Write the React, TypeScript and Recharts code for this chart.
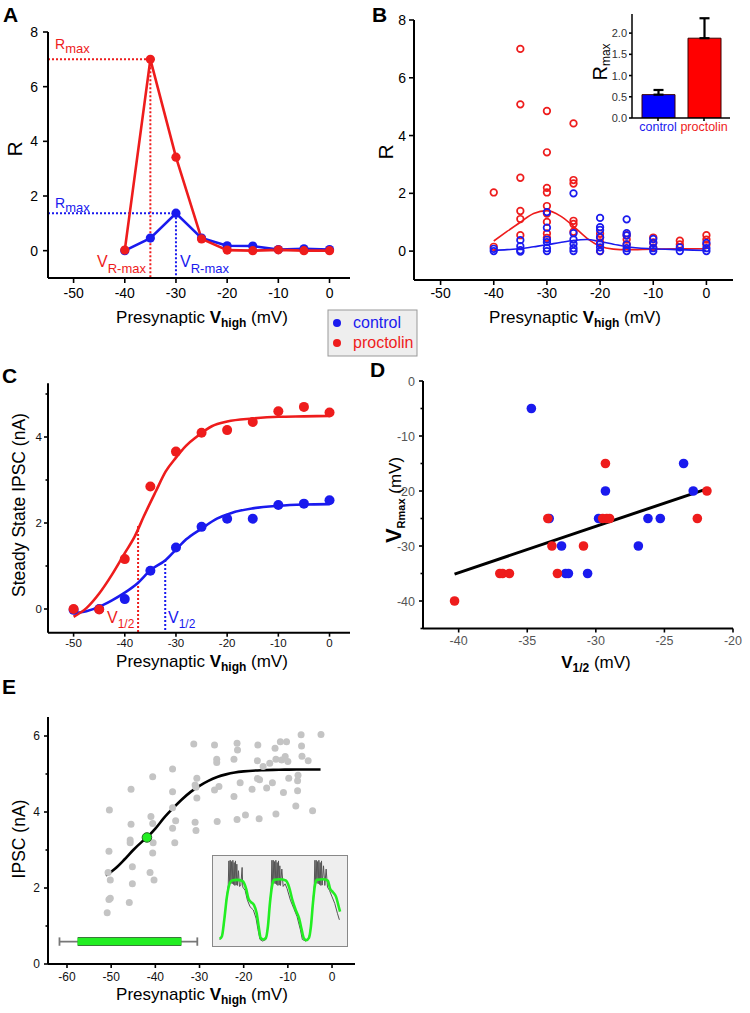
import React from 'react';
import { ComposedChart, LineChart, BarChart, Line, Scatter, Bar, XAxis, YAxis, ReferenceLine, ErrorBar, Cell } from 'recharts';

const FONT = '"Liberation Sans", Arial, Helvetica, sans-serif';
const RED = '#ee1c1c';
const BLUE = '#1a1aee';
const GREEN = '#22ee22';

// ---------- Panel A ----------
const aVoltages = [-40, -35, -30, -25, -20, -15, -10, -5, 0];
const aControlR = [0.0, 0.46, 1.37, 0.46, 0.18, 0.17, 0.04, 0.07, 0.04];
const aProctolinR = [0.02, 7.0, 3.42, 0.43, 0.02, 0.0, 0.03, 0.0, 0.0];
const aRmaxRed = [{ x: -55, y: 7.0 }, { x: -35, y: 7.0 }];
const aVmaxRed = [{ x: -35, y: 7.0 }, { x: -35, y: -1 }];
const aRmaxBlue = [{ x: -55, y: 1.37 }, { x: -30, y: 1.37 }];
const aVmaxBlue = [{ x: -30, y: 1.37 }, { x: -30, y: -1 }];
const vTicks = [-50, -40, -30, -20, -10, 0];
const aYTicks = [0, 2, 4, 6, 8];

// ---------- Panel B ----------
const bVoltages = [-40, -35, -30, -25, -20, -15, -10, -5, 0];
const bProctolinR = [
  [2.03, 0.15],
  [7.0, 5.08, 2.54, 1.39, 1.11, 0.55],
  [4.85, 3.42, 2.19, 2.03, 1.56, 1.3, 1.01, 0.61, 0.46],
  [4.42, 2.46, 2.34, 1.05, 0.94, 0.67],
  [0.6, 0.46, 0.3, 0.0],
  [0.55, 0.4, 0.23],
  [0.47, 0.3, 0.12],
  [0.36, 0.23],
  [0.55, 0.4, 0.22],
];
const bControlR = [
  [0.0, 0.08],
  [0.38, 0.17, 0.03, -0.02],
  [1.35, 0.81, 0.4, 0.31, 0.1, 0.0],
  [2.0, 0.62, 0.4, 0.25, 0.1, 0.0],
  [1.15, 0.83, 0.73, 0.48, 0.25, 0.13, 0.0],
  [1.1, 0.62, 0.54, 0.23, 0.1, 0.0],
  [0.42, 0.28, 0.1, 0.0],
  [0.13, 0.0],
  [0.28, 0.1, 0.0],
];
const bFitV = [-40, -37.5, -35, -32.5, -30, -27.5, -25, -22.5, -20, -17.5, -15, -10, -5, 0];
const bFitProctolin = [0.35, 0.68, 1.0, 1.3, 1.4, 1.22, 0.86, 0.45, 0.17, 0.07, 0.05, 0.07, 0.08, 0.08];
const bFitControl = [0.03, 0.05, 0.08, 0.15, 0.22, 0.3, 0.37, 0.4, 0.33, 0.24, 0.15, 0.08, 0.05, 0.02];
const bYTicks = [0, 2, 4, 6, 8];

// ---------- Panel B inset ----------
const insetGroups = ['control', 'proctolin'];
const insetRmax = [0.55, 1.88];
const insetSem = [0.11, 0.47];
const insetYTicks = [0, 0.5, 1.0, 1.5, 2.0];

// ---------- Panel C ----------
const cVoltages = [-50, -45, -40, -35, -30, -25, -20, -15, -10, -5, 0];
const cControlI = [-0.02, 0.0, 0.23, 0.89, 1.43, 1.91, 2.1, 2.1, 2.42, 2.45, 2.53];
const cProctolinI = [0.0, -0.01, 1.16, 2.85, 3.66, 4.1, 4.16, 4.35, 4.6, 4.7, 4.57];
const cFitProctolinV = [-50, -47.5, -45, -42.5, -40, -38, -36.3, -34, -32, -30, -28, -26, -23, -20, -15, -10, -5, 0];
const cFitProctolinI = [-0.18, 0.02, 0.36, 0.8, 1.3, 1.7, 2.15, 2.72, 3.2, 3.52, 3.8, 4.0, 4.25, 4.36, 4.43, 4.47, 4.48, 4.49];
const cFitControlV = [-50, -47.5, -45, -42.5, -40, -37.5, -35, -32, -30, -28, -25, -22, -19, -15, -10, -5, 0];
const cFitControlI = [-0.1, -0.05, 0.05, 0.2, 0.38, 0.6, 0.9, 1.14, 1.38, 1.62, 1.87, 2.1, 2.24, 2.34, 2.4, 2.43, 2.44];
const cHalfRed = [{ x: -37.4, y: 1.93 }, { x: -37.4, y: -0.55 }];
const cHalfBlue = [{ x: -32.1, y: 1.14 }, { x: -32.1, y: -0.55 }];
const cYTicks = [0, 1, 2, 3, 4, 5];

// ---------- Panel D ----------
const dControlV12 = [-34.7, -33.4, -32.5, -32.2, -32.0, -30.6, -29.8, -29.3, -26.9, -26.2, -25.3, -23.6, -22.9];
const dControlVR = [-5, -25, -30, -35, -35, -35, -25, -20, -30, -25, -25, -15, -20];
const dProctolinV12 = [-40.3, -37.0, -36.8, -36.3, -33.5, -33.2, -32.8, -30.9, -29.5, -29.3, -29.2, -29.0, -22.6, -21.9];
const dProctolinVR = [-40, -35, -35, -35, -25, -30, -35, -30, -25, -15, -25, -25, -25, -20];
const dFit = [{ x: -40.3, y: -35.1 }, { x: -21.9, y: -19.6 }];
const dXTicks = [-40, -35, -30, -25, -20];
const dYTicks = [-45, -40, -35, -30, -25, -20, -15, -10, -5, 0];

// ---------- Panel E ----------
const eScatterV = [-50.4, -50.5, -50.7, -50.2, -50.2, -50.5, -50.9, -45.5, -45.5, -45.7, -45.7, -45.2, -45.2, -45.9,
  -40.6, -41.0, -40.6, -40.5, -40.6, -41.2, -40.3, -36.1, -36.1, -36.1, -36.1, -35.4, -35.6,
  -31.3, -30.6, -31.0, -30.8, -30.6, -31.0, -30.8, -26.6, -26.1, -26.1, -26.6, -25.6, -26.0,
  -22.2, -22.2, -21.5, -21.5, -21.4, -20.8, -19.6, -18.1, -16.8, -16.9, -16.4, -16.9, -16.5,
  -15.6, -14.8, -14.1, -13.5, -12.9, -12.7, -12.7, -11.7, -11.4, -11.0, -10.6, -10.3, -10.0, -9.8,
  -8.2, -7.8, -7.7, -7.8, -7.0, -6.9, -6.8, -5.4, -4.4, -2.5];
const eScatterI = [4.05, 2.97, 2.41, 2.21, 1.73, 1.7, 1.35, 4.6, 3.68, 3.26, 3.19, 2.56, 2.11, 1.62,
  4.93, 3.88, 3.7, 3.19, 2.92, 2.41, 2.21, 5.13, 4.53, 4.11, 3.57, 3.77, 3.19,
  5.79, 4.89, 4.71, 4.65, 4.37, 3.73, 3.51, 5.76, 5.39, 5.3, 4.58, 4.67, 3.75,
  5.39, 4.41, 3.8, 5.81, 5.63, 4.77, 3.92, 4.6, 5.76, 5.35, 4.85, 4.88, 3.82,
  5.2, 4.63, 5.28, 4.77, 5.68, 5.39, 3.95, 5.85, 5.37, 4.51, 5.46, 5.85, 5.33, 4.89,
  4.16, 4.82, 4.97, 4.56, 6.03, 5.74, 5.47, 5.35, 4.03, 6.04];
const eFitV = [-51.2, -49, -47, -45, -43, -41.9, -40, -38, -36, -34, -32, -30, -28, -26, -24, -22, -20, -16, -12, -8, -2.6];
const eFitI = [2.33, 2.52, 2.75, 3.0, 3.22, 3.33, 3.56, 3.85, 4.1, 4.33, 4.53, 4.69, 4.82, 4.92, 4.99, 5.04, 5.07, 5.1, 5.11, 5.12, 5.12];
const eHalf = [{ x: -41.9, y: 3.33 }];
const eRangeWhisker = [{ x: -61.7, y: 0.59 }, { x: -30.5, y: 0.59 }];
const eRangeCapL = [{ x: -61.7, y: 0.48 }, { x: -61.7, y: 0.7 }];
const eRangeCapR = [{ x: -30.5, y: 0.48 }, { x: -30.5, y: 0.7 }];
const eRangeBar = [{ x: -57.6, y: 0.59 }, { x: -34.1, y: 0.59 }];
const eXTicks = [-60, -50, -40, -30, -20, -10, 0];
const eYTicks = [0, 1, 2, 3, 4, 5, 6];

// ---------- Panel E inset traces ----------
const insetGreenT = [58, 65, 72, 80, 88, 95, 110, 128, 138, 145, 152, 162, 170, 176, 182, 190, 198, 204, 210, 216, 222, 240, 258, 268, 278, 288, 298, 306, 312, 320, 328, 334, 340, 346, 352, 370, 385, 392, 400, 410, 418, 422];
const insetGreenV = [22, 30, 80, 150, 190, 200, 202, 198, 175, 145, 135, 125, 100, 60, 25, 20, 25, 60, 130, 180, 202, 204, 200, 180, 140, 110, 85, 50, 25, 18, 25, 60, 130, 185, 202, 204, 200, 175, 165, 150, 120, 105];
const insetGrayT = [58, 66, 72, 78, 84, 86, 88, 90, 92, 94, 96, 98, 100, 102, 104, 106, 108, 110, 112, 115, 118, 122, 126, 128, 135, 142, 150, 160, 168, 174, 180, 188, 198, 204, 210, 214, 216, 218, 220, 222, 224, 226, 228, 230, 232, 234, 236, 238, 240, 242, 246, 250, 256, 262, 272, 282, 292, 302, 308, 318, 328, 334, 340, 344, 346, 348, 350, 352, 354, 356, 358, 360, 362, 364, 366, 368, 372, 376, 380, 384, 390, 398, 406, 414, 420];
const insetGrayV = [20, 30, 75, 140, 185, 260, 190, 262, 192, 258, 190, 262, 188, 255, 185, 260, 186, 250, 185, 230, 182, 185, 240, 180, 170, 140, 120, 110, 85, 50, 20, 15, 20, 60, 130, 180, 262, 190, 262, 192, 258, 190, 262, 188, 255, 185, 260, 186, 245, 185, 235, 182, 190, 175, 140, 115, 90, 50, 20, 15, 25, 60, 135, 185, 262, 190, 262, 192, 258, 190, 262, 188, 255, 185, 260, 186, 245, 185, 235, 180, 170, 150, 130, 100, 80];

// ---------- helpers ----------
const pts = (xs: number[], ys: number[]) => xs.map((x, i) => ({ x, y: ys[i] }));
const groupPts = (xs: number[], groups: number[][]) => xs.flatMap((x, i) => groups[i].map((y) => ({ x, y })));
const tracePts = (ts: number[], vs: number[]) => ts.map((t, i) => ({ t, v: vs[i] }));

type TickOpts = {
  axis: 'x' | 'y';
  major?: (v: any) => boolean;
  fmt?: (v: any) => string;
  fontSize: number;
  color?: string;
  colorFn?: (v: any) => string;
  len: number;
  minorLen?: number;
  offset: number;
};
const mkTick = (o: TickOpts) => (p: any) => {
  const v = p.payload.value;
  const isMajor = o.major ? o.major(v) : true;
  const L = isMajor ? o.len : (o.minorLen ?? 3);
  const label = isMajor ? (o.fmt ? o.fmt(v) : String(v)) : '';
  const fill = o.colorFn ? o.colorFn(v) : (o.color ?? '#000');
  if (o.axis === 'x') {
    return (
      <g>
        <line x1={p.x} y1={p.y} x2={p.x} y2={p.y + L} stroke="#000" strokeWidth={1.6} />
        {label !== '' && (
          <text x={p.x} y={p.y + o.offset} textAnchor="middle" fontSize={o.fontSize} fill={fill} fontFamily={FONT}>{label}</text>
        )}
      </g>
    );
  }
  return (
    <g>
      <line x1={p.x} y1={p.y} x2={p.x - L} y2={p.y} stroke="#000" strokeWidth={1.6} />
      {label !== '' && (
        <text x={p.x - o.offset} y={p.y + o.fontSize * 0.36} textAnchor="end" fontSize={o.fontSize} fill={fill} fontFamily={FONT}>{label}</text>
      )}
    </g>
  );
};

const axisLine = { stroke: '#000', strokeWidth: 2 };
const filledDot = (color: string, r: number, stroke = 'none') => (p: any) => (
  <circle cx={p.cx} cy={p.cy} r={r} fill={color} stroke={stroke} strokeWidth={1} />
);
const openDot = (color: string) => (p: any) => (
  <circle cx={p.cx} cy={p.cy} r={3.3} fill="none" stroke={color} strokeWidth={1.7} />
);

const Abs: React.FC<{ left: number; top: number; children: React.ReactNode }> = ({ left, top, children }) => (
  <div style={{ position: 'absolute', left, top }}>{children}</div>
);

const VLabel: React.FC<{ x: number; y: number }> = ({ x, y }) => (
  <text x={x} y={y} textAnchor="middle" fontSize={17}>
    {'Presynaptic '}
    <tspan fontWeight="bold">V</tspan>
    <tspan fontWeight="bold" fontSize={12} dy={4}>high</tspan>
    <tspan dy={-4}>{' (mV)'}</tspan>
  </text>
);

export default function App() {
  const isEven = (v: number) => Math.abs(v % 2) < 1e-9;
  const isTen = (v: number) => Math.abs(v % 10) < 1e-9;
  return (
    <div style={{ position: 'absolute', left: 0, top: 0, width: 750, height: 1013, background: '#fff', fontFamily: FONT, overflow: 'hidden' }}>
      {/* Panel A */}
      <Abs left={0} top={0}>
        <ComposedChart width={360} height={300} margin={{ top: 32, right: 10, bottom: 0, left: 0 }}>
          <XAxis type="number" dataKey="x" domain={[-55, 4]} allowDataOverflow ticks={vTicks} interval={0} height={22}
            axisLine={axisLine} tickLine={false} tickSize={0} tickMargin={0}
            tick={mkTick({ axis: 'x', fontSize: 14, len: 5, offset: 20 })} />
          <YAxis type="number" dataKey="y" domain={[-1, 8]} allowDataOverflow ticks={aYTicks} interval={0} width={48}
            axisLine={axisLine} tickLine={false} tickSize={0} tickMargin={0}
            tick={mkTick({ axis: 'y', fontSize: 14, len: 5, offset: 10 })} />
          <ReferenceLine segment={aRmaxRed} stroke={RED} strokeWidth={2} strokeDasharray="2 2" ifOverflow="visible" />
          <ReferenceLine segment={aVmaxRed} stroke={RED} strokeWidth={2} strokeDasharray="2 2" ifOverflow="visible" />
          <ReferenceLine segment={aRmaxBlue} stroke={BLUE} strokeWidth={2} strokeDasharray="2 2" ifOverflow="visible" />
          <ReferenceLine segment={aVmaxBlue} stroke={BLUE} strokeWidth={2} strokeDasharray="2 2" ifOverflow="visible" />
          <Line data={pts(aVoltages, aControlR)} dataKey="y" type="linear" stroke={BLUE} strokeWidth={2.6}
            dot={{ r: 4.6, fill: BLUE, stroke: BLUE, strokeWidth: 0 }} activeDot={false} isAnimationActive={false} />
          <Line data={pts(aVoltages, aProctolinR)} dataKey="y" type="linear" stroke={RED} strokeWidth={2.6}
            dot={{ r: 4.6, fill: RED, stroke: RED, strokeWidth: 0 }} activeDot={false} isAnimationActive={false} />
        </ComposedChart>
      </Abs>

      {/* Panel B */}
      <Abs left={370} top={0}>
        <ComposedChart width={370} height={300} margin={{ top: 20, right: 7, bottom: 0, left: 0 }}>
          <XAxis type="number" dataKey="x" domain={[-55, 5]} allowDataOverflow ticks={vTicks} interval={0} height={20}
            axisLine={axisLine} tickLine={false} tickSize={0} tickMargin={0}
            tick={mkTick({ axis: 'x', fontSize: 14, len: 5, offset: 18 })} />
          <YAxis type="number" dataKey="y" domain={[-1, 8]} allowDataOverflow ticks={bYTicks} interval={0} width={44}
            axisLine={axisLine} tickLine={false} tickSize={0} tickMargin={0}
            tick={mkTick({ axis: 'y', fontSize: 14, len: 5, offset: 8 })} />
          <Scatter data={groupPts(bVoltages, bProctolinR)} shape={openDot(RED)} isAnimationActive={false} />
          <Scatter data={groupPts(bVoltages, bControlR)} shape={openDot(BLUE)} isAnimationActive={false} />
          <Line data={pts(bFitV, bFitProctolin)} dataKey="y" type="monotone" stroke={RED} strokeWidth={1.6} dot={false} activeDot={false} isAnimationActive={false} />
          <Line data={pts(bFitV, bFitControl)} dataKey="y" type="monotone" stroke={BLUE} strokeWidth={1.6} dot={false} activeDot={false} isAnimationActive={false} />
        </ComposedChart>
      </Abs>

      {/* Panel B inset */}
      <Abs left={575} top={0}>
        <BarChart width={165} height={140} margin={{ top: 14, right: 10, bottom: 0, left: 0 }}
          data={insetGroups.map((g, i) => ({ name: g, v: insetRmax[i], err: [0, insetSem[i]] }))}>
          <XAxis type="category" dataKey="name" height={22} padding={{ left: 3, right: 3 }}
            axisLine={{ stroke: '#000', strokeWidth: 1.5 }} tickLine={false} tickSize={0} tickMargin={0} interval={0}
            tick={mkTick({ axis: 'x', fontSize: 12.5, len: 3, offset: 13, colorFn: (v) => (v === 'control' ? BLUE : RED) })} />
          <YAxis type="number" domain={[0, 2.45]} allowDataOverflow ticks={insetYTicks} interval={0} width={57}
            axisLine={{ stroke: '#000', strokeWidth: 1.5 }} tickLine={false} tickSize={0} tickMargin={0}
            tick={mkTick({ axis: 'y', fontSize: 11, len: 3, offset: 5, color: '#333', fmt: (v) => Number(v).toFixed(1) })} />
          <Bar dataKey="v" barSize={33} stroke="#3a0000" strokeWidth={1} isAnimationActive={false}>
            {insetGroups.map((g) => (
              <Cell key={g} fill={g === 'control' ? '#0000ff' : '#ff0000'} />
            ))}
            <ErrorBar dataKey="err" width={5} strokeWidth={2.2} stroke="#000" />
          </Bar>
        </BarChart>
      </Abs>

      {/* Panel C */}
      <Abs left={0} top={350}>
        <ComposedChart width={360} height={300} margin={{ top: 33.25, right: 10, bottom: 0, left: 0 }}>
          <XAxis type="number" dataKey="x" domain={[-55, 4]} allowDataOverflow ticks={vTicks} interval={0} height={17.35}
            axisLine={axisLine} tickLine={false} tickSize={0} tickMargin={0}
            tick={mkTick({ axis: 'x', fontSize: 11.5, len: 4, offset: 14.5, color: '#111' })} />
          <YAxis type="number" dataKey="y" domain={[-0.55, 5.25]} allowDataOverflow ticks={cYTicks} interval={0} width={48}
            axisLine={axisLine} tickLine={false} tickSize={0} tickMargin={0}
            tick={mkTick({ axis: 'y', fontSize: 11.5, len: 4, minorLen: 2.5, offset: 6, color: '#111', major: isEven })} />
          <ReferenceLine segment={cHalfRed} stroke={RED} strokeWidth={2} strokeDasharray="2 2" ifOverflow="visible" />
          <ReferenceLine segment={cHalfBlue} stroke={BLUE} strokeWidth={2} strokeDasharray="2 2" ifOverflow="visible" />
          <Scatter data={pts(cVoltages, cControlI)} shape={filledDot(BLUE, 5)} isAnimationActive={false} />
          <Scatter data={pts(cVoltages, cProctolinI)} shape={filledDot(RED, 5)} isAnimationActive={false} />
          <Line data={pts(cFitControlV, cFitControlI)} dataKey="y" type="monotone" stroke={BLUE} strokeWidth={2.6} dot={false} activeDot={false} isAnimationActive={false} />
          <Line data={pts(cFitProctolinV, cFitProctolinI)} dataKey="y" type="monotone" stroke={RED} strokeWidth={2.6} dot={false} activeDot={false} isAnimationActive={false} />
        </ComposedChart>
      </Abs>

      {/* Panel D */}
      <Abs left={370} top={350}>
        <ComposedChart width={380} height={300} margin={{ top: 31, right: 17, bottom: 0, left: 0 }}>
          <XAxis type="number" dataKey="x" domain={[-42.6, -20]} allowDataOverflow ticks={dXTicks} interval={0} height={21.5}
            axisLine={axisLine} tickLine={false} tickSize={0} tickMargin={0}
            tick={mkTick({ axis: 'x', fontSize: 12.5, len: 4, offset: 16.5, color: '#555' })} />
          <YAxis type="number" dataKey="y" domain={[-45, 0]} allowDataOverflow ticks={dYTicks} interval={0} width={53}
            axisLine={axisLine} tickLine={false} tickSize={0} tickMargin={0}
            tick={mkTick({ axis: 'y', fontSize: 12.5, len: 4, minorLen: 2.5, offset: 8, color: '#555', major: isTen })} />
          <Scatter data={pts(dControlV12, dControlVR)} shape={filledDot(BLUE, 4.8)} isAnimationActive={false} />
          <Scatter data={pts(dProctolinV12, dProctolinVR)} shape={filledDot(RED, 4.8)} isAnimationActive={false} />
          <Line data={dFit} dataKey="y" type="linear" stroke="#000" strokeWidth={3} dot={false} activeDot={false} isAnimationActive={false} />
        </ComposedChart>
      </Abs>

      {/* Panel E */}
      <Abs left={0} top={700}>
        <ComposedChart width={365} height={290} margin={{ top: 17, right: 10, bottom: 0, left: 0 }}>
          <XAxis type="number" dataKey="x" domain={[-64.3, 5.2]} allowDataOverflow ticks={eXTicks} interval={0} height={26}
            axisLine={axisLine} tickLine={false} tickSize={0} tickMargin={0}
            tick={mkTick({ axis: 'x', fontSize: 12, len: 4, offset: 17, color: '#111' })} />
          <YAxis type="number" dataKey="y" domain={[0, 6.5]} allowDataOverflow ticks={eYTicks} interval={0} width={48}
            axisLine={axisLine} tickLine={false} tickSize={0} tickMargin={0}
            tick={mkTick({ axis: 'y', fontSize: 12, len: 4, minorLen: 2.5, offset: 8, color: '#111', major: isEven })} />
          <Scatter data={pts(eScatterV, eScatterI)} shape={filledDot('#c4c4c4', 3.5)} isAnimationActive={false} />
          <Line data={pts(eFitV, eFitI)} dataKey="y" type="monotone" stroke="#000" strokeWidth={2.6} dot={false} activeDot={false} isAnimationActive={false} />
          <Scatter data={eHalf} shape={filledDot(GREEN, 4.8, '#226622')} isAnimationActive={false} />
          <Line data={eRangeWhisker} dataKey="y" type="linear" stroke="#777" strokeWidth={1.8} dot={false} activeDot={false} isAnimationActive={false} />
          <Line data={eRangeCapL} dataKey="y" type="linear" stroke="#777" strokeWidth={1.8} dot={false} activeDot={false} isAnimationActive={false} />
          <Line data={eRangeCapR} dataKey="y" type="linear" stroke="#777" strokeWidth={1.8} dot={false} activeDot={false} isAnimationActive={false} />
          <Line data={eRangeBar} dataKey="y" type="linear" stroke="#3a7a3a" strokeWidth={9} strokeLinecap="butt" dot={false} activeDot={false} isAnimationActive={false} />
          <Line data={eRangeBar} dataKey="y" type="linear" stroke={GREEN} strokeWidth={7} strokeLinecap="butt" dot={false} activeDot={false} isAnimationActive={false} />
        </ComposedChart>
      </Abs>

      {/* Panel E inset */}
      <div style={{ position: 'absolute', left: 212, top: 855, width: 136, height: 92, border: '1px solid #888', boxSizing: 'border-box', background: '#eeeeee' }}>
        <LineChart width={134} height={90} margin={{ top: 0, right: 0, bottom: 0, left: 0 }}>
          <XAxis type="number" dataKey="t" domain={[38, 443]} allowDataOverflow hide />
          <YAxis type="number" dataKey="v" domain={[0, 275]} allowDataOverflow hide />
          <Line data={tracePts(insetGrayT, insetGrayV)} dataKey="v" type="linear" stroke="#555" strokeWidth={1} dot={false} activeDot={false} isAnimationActive={false} />
          <Line data={tracePts(insetGreenT, insetGreenV)} dataKey="v" type="monotone" stroke={GREEN} strokeWidth={2.6} dot={false} activeDot={false} isAnimationActive={false} />
        </LineChart>
      </div>

      {/* Text overlay */}
      <svg width={750} height={1013} style={{ position: 'absolute', left: 0, top: 0, pointerEvents: 'none' }} fontFamily={FONT}>
        <text x={3} y={22} fontSize={21} fontWeight="bold">A</text>
        <text x={372} y={22} fontSize={21} fontWeight="bold">B</text>
        <text x={2} y={383} fontSize={21} fontWeight="bold">C</text>
        <text x={370} y={377} fontSize={21} fontWeight="bold">D</text>
        <text x={2} y={694} fontSize={21} fontWeight="bold">E</text>

        {/* A */}
        <text transform="translate(22,149) rotate(-90)" textAnchor="middle" fontSize={21}>R</text>
        <text x={55} y={49} fontSize={14} fill={RED}>R<tspan fontSize={13} dy={4}>max</tspan></text>
        <text x={55} y={208} fontSize={14} fill={BLUE}>R<tspan fontSize={13} dy={4}>max</tspan></text>
        <text x={97} y={267} fontSize={16} fill={RED}>V<tspan fontSize={13} dy={6}>R-max</tspan></text>
        <text x={180} y={267} fontSize={16} fill={BLUE}>V<tspan fontSize={13} dy={6}>R-max</tspan></text>
        <VLabel x={202} y={323} />

        {/* B */}
        <text transform="translate(393,152) rotate(-90)" textAnchor="middle" fontSize={21}>R</text>
        <VLabel x={575} y={323} />
        <text transform="translate(607,62) rotate(-90)" textAnchor="middle" fontSize={20}>R<tspan fontSize={12} dy={3}>max</tspan></text>

        {/* Legend */}
        <rect x={328} y={310} width={89} height={46} fill="#eeeeee" stroke="#999" strokeWidth={1} />
        <circle cx={337} cy={323} r={4} fill={BLUE} />
        <text x={353} y={328} fontSize={16} fill={BLUE}>control</text>
        <circle cx={337} cy={343} r={4} fill={RED} />
        <text x={353} y={348} fontSize={16} fill={RED}>proctolin</text>

        {/* C */}
        <text transform="translate(25,505) rotate(-90)" textAnchor="middle" fontSize={17.5}>Steady State IPSC (nA)</text>
        <text x={107} y={623} fontSize={16} fill={RED}>V<tspan fontSize={12} dy={5}>1/2</tspan></text>
        <text x={168} y={623} fontSize={16} fill={BLUE}>V<tspan fontSize={12} dy={5}>1/2</tspan></text>
        <VLabel x={202} y={667} />

        {/* D */}
        <text transform="translate(401,500) rotate(-90)" textAnchor="middle" fontSize={17}>
          <tspan fontWeight="bold" fontSize={22}>V</tspan>
          <tspan fontWeight="bold" fontSize={11} dy={4}>Rmax</tspan>
          <tspan dy={-4}>{' (mV)'}</tspan>
        </text>
        <text x={596} y={668} textAnchor="middle" fontSize={17}>
          <tspan fontWeight="bold">V</tspan>
          <tspan fontWeight="bold" fontSize={12} dy={4}>1/2</tspan>
          <tspan dy={-4}>{' (mV)'}</tspan>
        </text>

        {/* E */}
        <text transform="translate(25,839) rotate(-90)" textAnchor="middle" fontSize={17.5}>IPSC (nA)</text>
        <VLabel x={202} y={1000} />
      </svg>
    </div>
  );
}
